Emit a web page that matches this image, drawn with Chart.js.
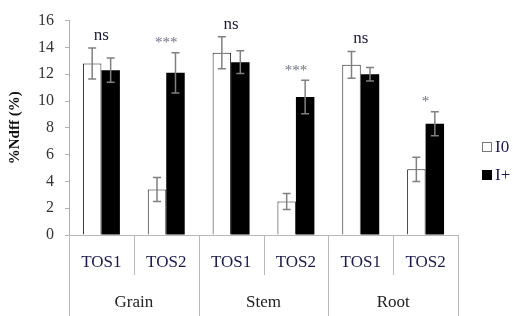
<!DOCTYPE html>
<html lang="en">
<head>
  <meta charset="UTF-8">
  <title>%Ndff chart</title>
  <script src="https://cdn.jsdelivr.net/npm/chart.js"></script>
  <style>
    html, body { margin: 0; padding: 0; background: #fff; }
    #wrap { width: 514px; height: 316px; }
  </style>
</head>
<body>
  <div id="wrap"><canvas id="ndffChart" width="514" height="316"></canvas></div>

  <script>
    // data
    const groups = ['Grain', 'Stem', 'Root'];
    const labels = ['TOS1', 'TOS2', 'TOS1', 'TOS2', 'TOS1', 'TOS2'];
    const i0Values = [12.8, 3.4, 13.6, 2.5, 12.7, 4.9];
    const i0Errors = [1.15, 0.9, 1.2, 0.6, 1.0, 0.9];
    const iPlusValues = [12.3, 12.1, 12.9, 10.3, 12.0, 8.3];
    const iPlusErrors = [0.9, 1.5, 0.85, 1.25, 0.5, 0.9];
    const significance = ['ns', '***', 'ns', '***', 'ns', '*'];
    const yTicks = [0, 2, 4, 6, 8, 10, 12, 14, 16];

    const serif = '"Liberation Serif", "Times New Roman", serif';

    const extras = {
      id: 'extras',
      afterDatasetsDraw(chart) {
        const ctx = chart.ctx;
        const y = chart.scales.y;
        const errs = [i0Errors, iPlusErrors];
        ctx.save();
        ctx.strokeStyle = '#808080';
        ctx.lineWidth = 1.5;
        chart.data.datasets.forEach((ds, d) => {
          chart.getDatasetMeta(d).data.forEach((el, i) => {
            const top = y.getPixelForValue(ds.data[i] + errs[d][i]);
            const bot = y.getPixelForValue(ds.data[i] - errs[d][i]);
            ctx.beginPath();
            ctx.moveTo(el.x, top); ctx.lineTo(el.x, bot);
            ctx.moveTo(el.x - 4, top); ctx.lineTo(el.x + 4, top);
            ctx.moveTo(el.x - 4, bot); ctx.lineTo(el.x + 4, bot);
            ctx.stroke();
          });
        });
        ctx.restore();
      },
      afterDraw(chart) {
        const ctx = chart.ctx;
        const x = chart.scales.x;
        const y = chart.scales.y;
        const area = chart.chartArea;
        const H = chart.height;
        ctx.save();

        // significance marks
        ctx.textAlign = 'center';
        ctx.textBaseline = 'bottom';
        significance.forEach((s, i) => {
          const top = Math.max(i0Values[i] + i0Errors[i], iPlusValues[i] + iPlusErrors[i]);
          let py = y.getPixelForValue(top) - 4;
          if (s === 'ns') {
            ctx.font = '17px ' + serif;
            ctx.fillStyle = '#1a1a3a';
          } else {
            ctx.font = '15px ' + serif;
            ctx.fillStyle = '#70708a';
            py += 2;
          }
          ctx.fillText(s, x.getPixelForTick(i), py);
        });

        // category separators
        ctx.strokeStyle = '#b8b8b8';
        ctx.lineWidth = 1;
        const n = labels.length;
        for (let i = 0; i <= n; i++) {
          let px;
          if (i === 0) px = area.left;
          else if (i === n) px = area.right;
          else px = (x.getPixelForTick(i - 1) + x.getPixelForTick(i)) / 2;
          px = Math.round(px) + 0.5;
          const major = i % 2 === 0;
          ctx.beginPath();
          ctx.moveTo(px, area.bottom);
          ctx.lineTo(px, major ? H : area.bottom + 40);
          ctx.stroke();
        }

        // group labels
        ctx.font = '17px ' + serif;
        ctx.fillStyle = '#222';
        ctx.textBaseline = 'middle';
        groups.forEach((g, k) => {
          const cx = (x.getPixelForTick(2 * k) + x.getPixelForTick(2 * k + 1)) / 2;
          ctx.fillText(g, cx, 303);
        });

        // legend
        ctx.textAlign = 'left';
        ctx.font = '17px ' + serif;
        chart.data.datasets.forEach((ds, d) => {
          const cy = 147 + d * 28;
          ctx.fillStyle = ds.backgroundColor;
          ctx.fillRect(482.5, cy - 4.5, 9, 9);
          ctx.strokeStyle = d === 0 ? '#777' : '#000';
          ctx.strokeRect(482.5, cy - 4.5, 9, 9);
          ctx.fillStyle = '#1a1a5a';
          ctx.fillText(ds.label, 495, cy + 1);
        });
        ctx.restore();
      }
    };

    new Chart(document.getElementById('ndffChart').getContext('2d'), {
      type: 'bar',
      data: {
        labels: labels,
        datasets: [
          {
            label: 'I0',
            data: i0Values,
            backgroundColor: '#ffffff',
            borderColor: '#222222',
            borderWidth: 1
          },
          {
            label: 'I+',
            data: iPlusValues,
            backgroundColor: '#000000',
            borderWidth: 0
          }
        ]
      },
      options: {
        responsive: false,
        animation: false,
        categoryPercentage: 0.57,
        barPercentage: 1,
        layout: { padding: { top: 16, right: 56, bottom: 0, left: 0 } },
        plugins: {
          legend: { display: false },
          tooltip: { enabled: false }
        },
        scales: {
          x: {
            grid: { display: false, drawTicks: false },
            border: { display: true, color: '#b8b8b8' },
            ticks: {
              color: '#1a1a50',
              font: { family: serif, size: 17 },
              padding: 17
            },
            afterFit(scale) { scale.height = 81; }
          },
          y: {
            min: 0,
            max: 16,
            afterBuildTicks(scale) { scale.ticks = yTicks.map(v => ({ value: v })); },
            grid: { drawOnChartArea: false, drawTicks: true, tickLength: 4, color: '#b0b0b0' },
            border: { display: true, color: '#b0b0b0' },
            ticks: {
              color: '#333',
              font: { family: serif, size: 16 },
              padding: 11
            },
            title: {
              display: true,
              text: '%Ndff (%)',
              color: '#111',
              font: { family: serif, size: 15, weight: 'bold' },
              padding: { top: 6, bottom: 0 }
            },
            afterFit(scale) { scale.width = 69; }
          }
        }
      },
      plugins: [extras]
    });
  </script>
</body>
</html>
